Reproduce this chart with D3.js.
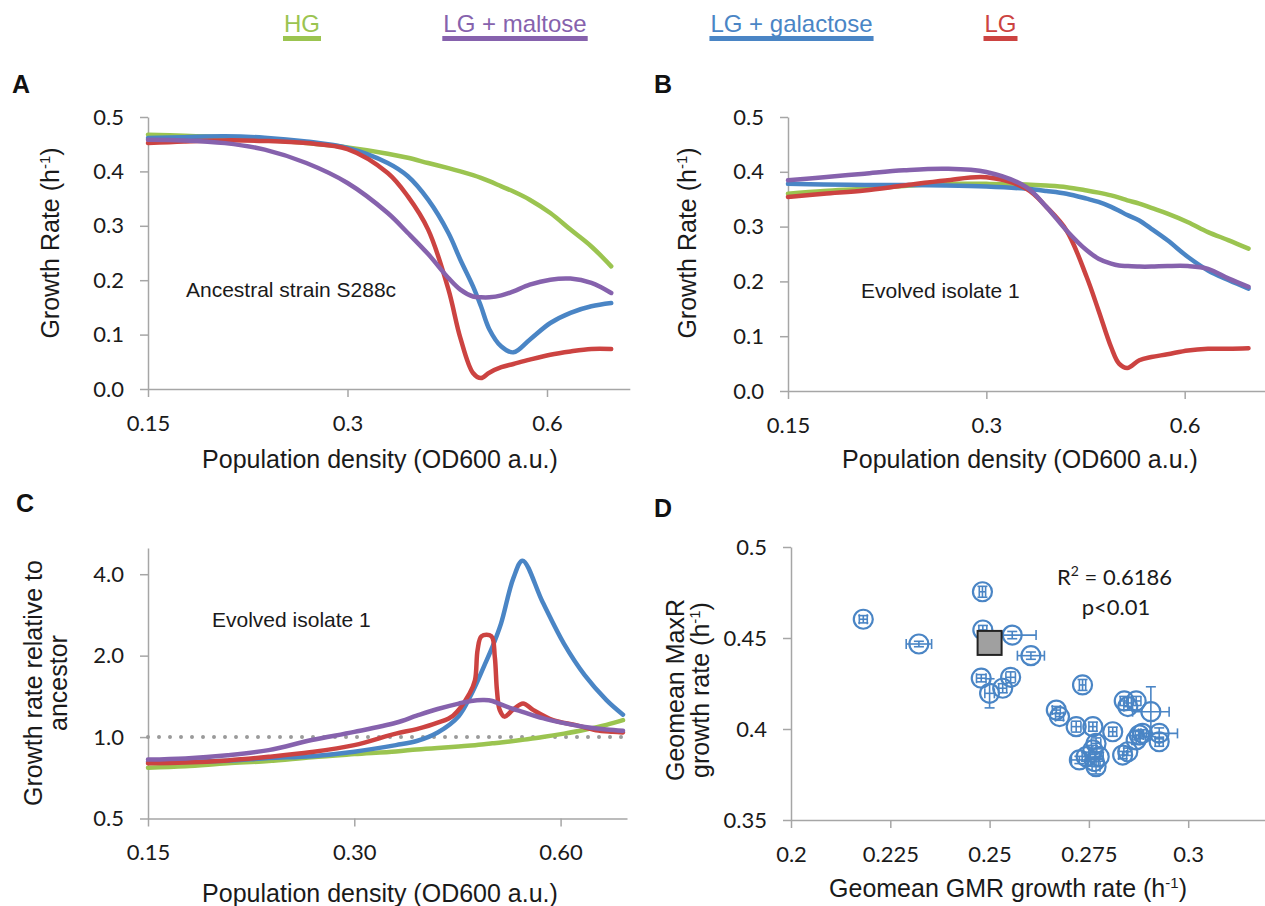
<!DOCTYPE html>
<html><head><meta charset="utf-8">
<script src="https://cdn.jsdelivr.net/npm/d3@7"></script>
<style>
body{margin:0;background:#fff}
svg{display:block;background:#fff}
.tick text{font-family:Lato,"Open Sans",sans-serif;font-size:22px;fill:#1a1a1a}
.axis path,.axis line{stroke:#a6a6a6;stroke-width:1.5}
.ttl{font-family:"Liberation Sans",Arial,sans-serif;font-size:25px;fill:#1a1a1a}
.ann{font-family:"Liberation Sans",Arial,sans-serif;font-size:21px;fill:#1a1a1a}
.lbl{font-family:"Liberation Sans",Arial,sans-serif;font-size:25px;font-weight:bold;fill:#111}
.leg{font-family:"Liberation Sans",Arial,sans-serif;font-size:24px}
.stat{font-family:Lato,"Open Sans",sans-serif;font-size:22px;fill:#1a1a1a}
</style></head><body>
<svg id="chart" width="1265" height="906"></svg>
<script>
// ---------- DATA ----------
const seriesNames = ["HG", "LG + maltose", "LG + galactose", "LG"];

// Panels A & B: population density grid (OD600)
const odGrid = [0.15, 0.17, 0.196, 0.225, 0.26, 0.30, 0.345, 0.37, 0.397, 0.426, 0.444, 0.464, 0.477, 0.491, 0.512, 0.534, 0.565, 0.607, 0.651, 0.70, 0.75];

// Panel A: ancestral strain growth rate (h^-1)
const ancHG        = [0.4675, 0.4657, 0.4626, 0.458, 0.452, 0.444, 0.4326, 0.425, 0.4154, 0.406, 0.400, 0.393, 0.388, 0.382, 0.3725, 0.363, 0.348, 0.3235, 0.293, 0.262, 0.2255];
const ancMaltose   = [0.458, 0.457, 0.452, 0.440, 0.4154, 0.3787, 0.3235, 0.2868, 0.248, 0.204, 0.1826, 0.170, 0.1685, 0.1685, 0.172, 0.1795, 0.1918, 0.201, 0.203, 0.195, 0.1765];
const ancGalactose = [0.4614, 0.463, 0.4645, 0.462, 0.455, 0.443, 0.4154, 0.391, 0.348, 0.2868, 0.2377, 0.1887, 0.152, 0.11, 0.078, 0.0674, 0.0907, 0.1213, 0.140, 0.152, 0.158];
const ancLG        = [0.452, 0.455, 0.457, 0.456, 0.452, 0.441, 0.397, 0.354, 0.293, 0.183, 0.094, 0.0294, 0.020, 0.030, 0.040, 0.046, 0.054, 0.063, 0.069, 0.0735, 0.0735];

// Panel B: evolved isolate 1 growth rate (h^-1)
const evoHG        = [0.360, 0.365, 0.369, 0.374, 0.378, 0.378, 0.377, 0.375, 0.372, 0.366, 0.362, 0.357, 0.353, 0.348, 0.342, 0.334, 0.3236, 0.308, 0.290, 0.275, 0.2597];
const evoMaltose   = [0.3844, 0.390, 0.3966, 0.4027, 0.4057, 0.3996, 0.372, 0.336, 0.293, 0.2567, 0.2415, 0.2324, 0.229, 0.228, 0.227, 0.227, 0.228, 0.228, 0.223, 0.205, 0.19];
const evoGalactose = [0.378, 0.377, 0.376, 0.376, 0.375, 0.373, 0.369, 0.365, 0.360, 0.351, 0.345, 0.336, 0.329, 0.321, 0.311, 0.296, 0.275, 0.2445, 0.220, 0.202, 0.1867];
const evoLG        = [0.354, 0.360, 0.366, 0.375, 0.384, 0.390, 0.369, 0.336, 0.293, 0.208, 0.147, 0.080, 0.050, 0.042, 0.056, 0.062, 0.067, 0.074, 0.077, 0.077, 0.078];

// Panel C: growth rate relative to ancestor
const odGridC      = [0.15, 0.17, 0.196, 0.225, 0.26, 0.30, 0.345, 0.37, 0.397, 0.426, 0.444, 0.464, 0.477, 0.491, 0.512, 0.528, 0.565, 0.607, 0.651, 0.70, 0.74];
const relHG        = [0.77, 0.78, 0.80, 0.815, 0.843, 0.865, 0.885, 0.90, 0.912, 0.922, 0.93, 0.94, 0.948, 0.955, 0.967, 0.977, 1.0, 1.03, 1.065, 1.11, 1.155];
const relMaltose   = [0.826, 0.834, 0.857, 0.895, 0.975, 1.045, 1.13, 1.2, 1.27, 1.33, 1.36, 1.37, 1.36, 1.32, 1.27, 1.24, 1.175, 1.126, 1.09, 1.066, 1.055];
const relGalactose = [0.81, 0.81, 0.817, 0.836, 0.85, 0.883, 0.934, 0.967, 1.04, 1.195, 1.43, 1.83, 2.15, 2.62, 3.87, 4.49, 3.15, 2.21, 1.69, 1.37, 1.21];
const odGridCLG    = [0.15, 0.17, 0.196, 0.225, 0.26, 0.30, 0.345, 0.37, 0.397, 0.418, 0.442, 0.450, 0.454, 0.460, 0.4755, 0.481, 0.4845, 0.489, 0.497, 0.511, 0.529, 0.547, 0.585, 0.632, 0.676, 0.715, 0.74];
const relLG        = [0.80, 0.805, 0.82, 0.845, 0.88, 0.934, 1.03, 1.07, 1.13, 1.2, 1.45, 1.62, 2.1, 2.36, 2.36, 1.98, 1.49, 1.26, 1.19, 1.26, 1.33, 1.26, 1.155, 1.107, 1.06, 1.046, 1.04];

// Panel D: evolved isolates, geomean GMR (x) vs geomean MaxR (y), with error bars
const gmrX   = [0.2182, 0.2322, 0.2482, 0.2483, 0.2557, 0.2604, 0.2479, 0.2500, 0.2533, 0.2553, 0.2734, 0.2839, 0.2869, 0.2848, 0.2906, 0.2668, 0.2676, 0.2718, 0.2760, 0.2810, 0.2768, 0.2760, 0.2743, 0.2726, 0.2764, 0.2776, 0.2768, 0.2835, 0.2848, 0.2869, 0.2877, 0.2885, 0.2927, 0.2927];
const maxrY  = [0.4603, 0.4467, 0.4754, 0.4544, 0.4516, 0.4403, 0.4279, 0.4196, 0.4224, 0.4284, 0.4242, 0.4154, 0.4154, 0.4123, 0.4095, 0.4104, 0.4068, 0.4013, 0.4013, 0.3985, 0.3921, 0.3885, 0.3848, 0.3830, 0.3821, 0.3848, 0.3793, 0.3857, 0.3875, 0.3940, 0.3967, 0.3976, 0.3976, 0.3930];
const gmrErr = [0.0010, 0.0032, 0.0008, 0.0010, 0.0060, 0.0034, 0.0012, 0.0012, 0.0010, 0.0012, 0.0008, 0.0010, 0.0012, 0.0010, 0.0046, 0.0010, 0.0010, 0.0012, 0.0010, 0.0010, 0.0012, 0.0010, 0.0010, 0.0020, 0.0010, 0.0010, 0.0010, 0.0010, 0.0010, 0.0010, 0.0010, 0.0010, 0.0046, 0.0010];
const maxrErr= [0.0020, 0.0015, 0.0030, 0.0025, 0.0020, 0.0020, 0.0020, 0.0080, 0.0025, 0.0030, 0.0030, 0.0025, 0.0025, 0.0020, 0.0137, 0.0020, 0.0020, 0.0030, 0.0025, 0.0025, 0.0030, 0.0025, 0.0025, 0.0020, 0.0025, 0.0025, 0.0040, 0.0020, 0.0020, 0.0025, 0.0020, 0.0020, 0.0030, 0.0025];
const ancestorPoint = [0.2500, 0.4473];

// Tick values
const densityTicks = [0.15, 0.3, 0.6];
const rateTicks    = [0, 0.1, 0.2, 0.3, 0.4, 0.5];
const relTicks     = [0.5, 1, 2, 4];
const gmrTicks     = [0.2, 0.225, 0.25, 0.275, 0.3];
const maxrTicks    = [0.35, 0.4, 0.45, 0.5];

// ---------- STYLE ----------
const colors = {"HG":"#9bc450","LG + maltose":"#8662ad","LG + galactose":"#4a85c5","LG":"#cc4341"};
const drawOrder = ["HG","LG + galactose","LG","LG + maltose"];

const svg = d3.select("#chart");
svg.append("rect").attr("width",1265).attr("height",906).attr("fill","#fff");

// ---------- LEGEND ----------
const legendCenters = [302, 515, 791.5, 1000.5];
seriesNames.forEach((n,i)=>{
  const t = svg.append("text").attr("class","leg").attr("x",legendCenters[i]).attr("y",31.5)
    .attr("text-anchor","middle").attr("fill",colors[n]).text(n);
  const w = t.node().getComputedTextLength();
  svg.append("line").attr("x1",legendCenters[i]-w/2-1).attr("x2",legendCenters[i]+w/2+1)
    .attr("y1",38.5).attr("y2",38.5).attr("stroke",colors[n]).attr("stroke-width",5);
});

function supTitle(sel, pre, sup, post){
  sel.append("tspan").text(pre);
  sel.append("tspan").attr("font-size","15px").attr("dy","-9").text(sup);
  sel.append("tspan").attr("dy","9").text(post);
}

function curvePanel(cfg){
  const g = svg.append("g");
  const x = d3.scaleLog().base(2).domain(cfg.xDomain).range(cfg.xRange);
  const y = (cfg.yLog ? d3.scaleLog().base(2) : d3.scaleLinear()).domain(cfg.yDomain).range(cfg.yRange);
  const y0 = cfg.yRange[0], x0 = cfg.xRange[0];
  g.append("g").attr("class","axis").attr("transform",`translate(0,${y0})`)
    .call(d3.axisBottom(x).tickValues(densityTicks).tickFormat(cfg.xFmt).tickSize(8).tickSizeOuter(0).tickPadding(18));
  g.append("g").attr("class","axis").attr("transform",`translate(${x0},0)`)
    .call(d3.axisLeft(y).tickValues(cfg.yTicks).tickFormat(d3.format(".1f")).tickSize(8).tickSizeOuter(0).tickPadding(16));
  if (cfg.refLine){
    g.append("line").attr("x1",x0).attr("x2",cfg.xRange[1]-2).attr("y1",y(1)).attr("y2",y(1))
      .attr("stroke","#9a9a9a").attr("stroke-width",4).attr("stroke-linecap","round").attr("stroke-dasharray","0 11");
  }
  const line = d3.line().x(d=>x(d[0])).y(d=>y(d[1])).curve(d3.curveCatmullRom.alpha(0.5));
  drawOrder.forEach(n=>{
    const s = cfg.series[n];
    g.append("path").datum(d3.zip(s[0], s[1])).attr("d",line).attr("fill","none")
      .attr("stroke",colors[n]).attr("stroke-width",4.5).attr("stroke-linecap","round").attr("stroke-linejoin","round");
  });
  return g;
}

// ---------- PANEL A ----------
curvePanel({xDomain:[0.15,0.8], xRange:[148,629.8], yDomain:[0,0.5], yRange:[389,117], yTicks:rateTicks,
  xFmt:d3.format(""), series:{"HG":[odGrid,ancHG],"LG + maltose":[odGrid,ancMaltose],"LG + galactose":[odGrid,ancGalactose],"LG":[odGrid,ancLG]}});
// ---------- PANEL B ----------
curvePanel({xDomain:[0.15,0.8], xRange:[788,1267], yDomain:[0,0.5], yRange:[391,117], yTicks:rateTicks,
  xFmt:d3.format(""), series:{"HG":[odGrid,evoHG],"LG + maltose":[odGrid,evoMaltose],"LG + galactose":[odGrid,evoGalactose],"LG":[odGrid,evoLG]}});
// ---------- PANEL C ----------
curvePanel({xDomain:[0.15,0.75], xRange:[148,627], yDomain:[0.5,5], yRange:[818.5,548], yTicks:relTicks, yLog:true, refLine:true,
  xFmt:d3.format(".2f"), series:{"HG":[odGridC,relHG],"LG + maltose":[odGridC,relMaltose],"LG + galactose":[odGridC,relGalactose],"LG":[odGridCLG,relLG]}});

// ---------- PANEL D ----------
(function(){
  const g = svg.append("g");
  const x = d3.scaleLinear().domain([0.2,0.325]).range([791,1287.5]);
  const y = d3.scaleLinear().domain([0.35,0.5]).range([820,547]);
  g.append("g").attr("class","axis").attr("transform","translate(0,820)")
    .call(d3.axisBottom(x).tickValues(gmrTicks).tickFormat(d=>String(+d.toFixed(3))).tickSize(8).tickSizeOuter(0).tickPadding(18));
  g.append("g").attr("class","axis").attr("transform","translate(791,0)")
    .call(d3.axisLeft(y).tickValues(maxrTicks).tickFormat(d=>String(+d.toFixed(2))).tickSize(8).tickSizeOuter(0).tickPadding(16));
  const blue = colors["LG + galactose"];
  const pts = d3.range(gmrX.length).map(i=>({x:gmrX[i],y:maxrY[i],ex:gmrErr[i],ey:maxrErr[i]}));
  const cap = 5;
  pts.forEach(p=>{
    const cx=x(p.x), cy=y(p.y), xl=x(p.x-p.ex), xr=x(p.x+p.ex), yt=y(p.y+p.ey), yb=y(p.y-p.ey);
    const e = g.append("g").attr("stroke",blue).attr("stroke-width",1.6).attr("fill","none");
    e.append("line").attr("x1",xl).attr("x2",xr).attr("y1",cy).attr("y2",cy);
    e.append("line").attr("x1",xl).attr("x2",xl).attr("y1",cy-cap).attr("y2",cy+cap);
    e.append("line").attr("x1",xr).attr("x2",xr).attr("y1",cy-cap).attr("y2",cy+cap);
    e.append("line").attr("x1",cx).attr("x2",cx).attr("y1",yt).attr("y2",yb);
    e.append("line").attr("x1",cx-cap).attr("x2",cx+cap).attr("y1",yt).attr("y2",yt);
    e.append("line").attr("x1",cx-cap).attr("x2",cx+cap).attr("y1",yb).attr("y2",yb);
    e.append("circle").attr("cx",cx).attr("cy",cy).attr("r",9.5).attr("stroke-width",2.2);
  });
  g.append("rect").attr("x",x(ancestorPoint[0])-12).attr("y",y(ancestorPoint[1])-12).attr("width",24).attr("height",24)
    .attr("fill","#a0a0a0").attr("stroke","#222").attr("stroke-width",2);
  const r2 = g.append("text").attr("class","stat").attr("x",1057).attr("y",585);
  r2.append("tspan").text("R");
  r2.append("tspan").attr("font-size","14px").attr("dy","-9").text("2");
  r2.append("tspan").attr("dy","9").text(" = 0.6186");
  g.append("text").attr("class","stat").attr("x",1116).attr("y",615).attr("text-anchor","middle").text("p<0.01");
})();

// ---------- TITLES / ANNOTATIONS ----------
function xTitle(cx, by){ svg.append("text").attr("class","ttl").attr("x",cx).attr("y",by).attr("text-anchor","middle").text("Population density (OD600 a.u.)"); }
xTitle(380, 468); xTitle(1020, 468); xTitle(380, 902);

const ya = svg.append("text").attr("class","ttl").attr("text-anchor","middle").attr("transform","translate(59,243) rotate(-90)");
supTitle(ya,"Growth Rate (h","-1",")");
const yb = svg.append("text").attr("class","ttl").attr("text-anchor","middle").attr("transform","translate(696,243) rotate(-90)");
supTitle(yb,"Growth Rate (h","-1",")");
svg.append("text").attr("class","ttl").attr("text-anchor","middle").attr("transform","translate(42,683) rotate(-90)").text("Growth rate relative to");
svg.append("text").attr("class","ttl").attr("text-anchor","middle").attr("transform","translate(67,683) rotate(-90)").text("ancestor");
svg.append("text").attr("class","ttl").attr("text-anchor","middle").attr("transform","translate(684,690) rotate(-90)").text("Geomean MaxR");
const yd = svg.append("text").attr("class","ttl").attr("text-anchor","middle").attr("transform","translate(709,690) rotate(-90)");
supTitle(yd,"growth rate (h","-1",")");
const xd = svg.append("text").attr("class","ttl").attr("text-anchor","middle").attr("x",1008).attr("y",897);
supTitle(xd,"Geomean GMR growth rate (h","-1",")");

svg.append("text").attr("class","ann").attr("x",186).attr("y",297).text("Ancestral strain S288c");
svg.append("text").attr("class","ann").attr("x",861).attr("y",298).text("Evolved isolate 1");
svg.append("text").attr("class","ann").attr("x",212).attr("y",627).text("Evolved isolate 1");

svg.append("text").attr("class","lbl").attr("x",12).attr("y",93).text("A");
svg.append("text").attr("class","lbl").attr("x",654).attr("y",93).text("B");
svg.append("text").attr("class","lbl").attr("x",16).attr("y",512).text("C");
svg.append("text").attr("class","lbl").attr("x",654).attr("y",517).text("D");
</script>
</body></html>
